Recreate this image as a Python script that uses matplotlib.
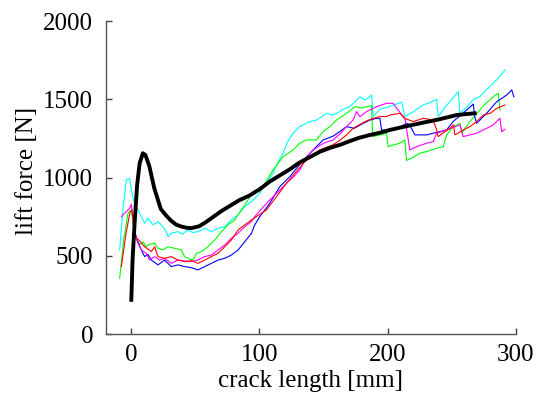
import matplotlib
matplotlib.use("Agg")
import matplotlib.pyplot as plt

# ---- data ----
black_x = [0, 1, 2.5, 4.5, 6.5, 9, 11, 14, 18, 23, 27, 31, 35, 39, 43, 47, 53, 58, 64, 70, 77, 84, 92, 100,
           108, 116, 124, 131, 139, 147, 155, 163, 171, 178, 186, 194, 202, 210, 220, 230, 240, 248, 254, 260, 268]
black_y = [220, 480, 700, 950, 1092, 1156, 1145, 1075, 930, 800, 760, 725, 700, 688, 680, 678, 690, 715, 750, 785,
           820, 855, 885, 925, 975, 1015, 1055, 1095, 1130, 1165, 1190, 1210, 1235, 1255, 1272, 1287, 1305, 1320,
           1338, 1355, 1372, 1388, 1400, 1405, 1411]

cyan_x = [-9.1, -6.5, -3.9, -1.3, 0.5, 2.6, 5, 7.8, 10.4, 13, 16.9, 20.8, 24.7, 27.3, 28.6, 31.2, 36.4, 40, 44.2,
          48, 52, 57.3, 62.5, 67.7, 72.9, 78.1, 83.3, 88.5, 93.8, 100.2, 105, 110.6, 114, 118.4, 122, 126.3, 131.5,
          135, 139.3, 144.5, 148, 152.3, 157.5, 162.7, 166, 170.5, 174, 178.4, 182.3, 185, 187.5, 188.8, 194, 200,
          205, 211, 213.5, 220, 227.8, 233, 238.3, 239.5, 245, 250, 255.2, 256.5, 262, 267, 272, 277, 282.5, 287,
          291.6]
cyan_y = [538, 800, 985, 996, 900, 836, 800, 751, 709, 742, 698, 719, 687, 655, 623, 645, 655, 640, 666, 650, 655,
          677, 655, 677, 687, 730, 762, 815, 847, 900, 960, 1028, 1090, 1156, 1230, 1284, 1326, 1340, 1358, 1368,
          1385, 1411, 1400, 1422, 1440, 1453, 1480, 1517, 1496, 1510, 1528, 1390, 1437, 1450, 1465, 1481, 1390,
          1420, 1464, 1480, 1500, 1390, 1450, 1500, 1549, 1411, 1450, 1500, 1517, 1560, 1603, 1640, 1688]

green_x = [-9.1, -6, -2.6, 0, 1.5, 3.9, 6.5, 9, 11.7, 14, 18.2, 20.8, 24.7, 28.6, 33.8, 39, 41.6, 44.2, 48.1, 50.8,
           54.7, 59.8, 65.1, 70.3, 75.5, 80.7, 85.9, 91.1, 95, 102.8, 110.6, 118.4, 126.3, 131.5, 136.7, 144.5,
           149.7, 154.9, 160.2, 168, 174.5, 179, 183.6, 187.5, 188.3, 194, 199.2, 200.5, 205, 209.6, 213.5, 214.8,
           220, 225.2, 232, 238.3, 243.4, 246.1, 251.3, 256.5, 258, 264.3, 272, 276, 280, 283, 286.4, 287.7]
green_y = [358, 600, 773, 794, 700, 602, 570, 591, 559, 575, 581, 549, 538, 559, 549, 538, 496, 485, 474, 517, 528,
           559, 602, 655, 698, 730, 794, 858, 910, 943, 1049, 1134, 1177, 1220, 1241, 1241, 1294, 1326, 1368, 1411,
           1453, 1445, 1453, 1460, 1262, 1273, 1284, 1198, 1210, 1220, 1241, 1110, 1130, 1156, 1170, 1188, 1198,
           1273, 1326, 1347, 1285, 1358, 1432, 1470, 1496, 1520, 1539, 1432]

red_x = [-7.8, -4, -1, 0.5, 2.6, 6, 10.4, 15.6, 18.2, 20.8, 26, 31.2, 36.4, 41.6, 47, 52, 57.3, 62.5, 67.7, 72.9,
         78.1, 83.3, 88.5, 93.8, 97.6, 105.5, 113.3, 121.1, 128.9, 136.7, 147.1, 157.5, 163, 168, 173.1, 178.4,
         183, 188.8, 194, 199.2, 201.8, 209.6, 213, 220, 227.8, 235.6, 238.3, 239.5, 244, 248.7, 251.3, 252.6, 258,
         264.3, 269.5, 274.7, 280, 285.2, 291.6]
red_y = [432, 650, 780, 794, 623, 600, 559, 528, 559, 496, 485, 496, 474, 464, 470, 453, 474, 496, 517, 559, 602,
         666, 698, 730, 751, 794, 879, 964, 1040, 1113, 1177, 1210, 1240, 1273, 1315, 1340, 1360, 1379, 1390, 1390,
         1400, 1411, 1380, 1358, 1379, 1368, 1305, 1262, 1290, 1315, 1337, 1273, 1300, 1326, 1358, 1400, 1410,
         1443, 1464]

blue_x = [2.6, 5.2, 7.8, 10.4, 13, 15.6, 20.8, 26, 31.2, 36.4, 41.6, 47, 52, 57.3, 62.5, 67.7, 72.9, 78.1, 83.3,
          88.5, 93.8, 96.3, 100.2, 108, 115.9, 123.7, 131.5, 141.9, 149.7, 157.5, 162.7, 168, 174, 181, 186.2,
          191.4, 194, 195.3, 200, 207, 214.8, 217, 221.3, 225.2, 230.5, 235.6, 240.9, 246.1, 251.3, 259, 266.9,
          268, 269.5, 277.3, 285.2, 293, 296.9, 298.5]
blue_y = [650, 591, 538, 496, 510, 474, 443, 474, 432, 443, 432, 425, 411, 432, 453, 474, 485, 506, 538, 591, 645,
          698, 751, 836, 943, 1006, 1085, 1177, 1241, 1265, 1294, 1326, 1315, 1347, 1368, 1379, 1379, 1305, 1300,
          1310, 1347, 1340, 1273, 1273, 1273, 1284, 1294, 1305, 1360, 1411, 1470, 1390, 1347, 1411, 1485, 1528,
          1560, 1517]

magenta_x = [-7.8, -3.9, -1.3, 0, 2.6, 5.2, 7.8, 11.7, 14.3, 18.2, 22.1, 26, 31.2, 36.4, 41.6, 46.9, 52, 57.3,
             62.5, 67.7, 72.9, 78.1, 83.3, 88.5, 93.8, 96.3, 105.5, 113.3, 121.1, 126, 131.5, 136.7, 141.9, 150,
             157.5, 163, 168, 173.1, 175.8, 178.4, 183.6, 191.4, 199.2, 204.4, 207, 213.5, 217.4, 222.7, 230.5,
             235.6, 238.3, 246.1, 256.5, 259, 269.5, 277.3, 282.5, 287.7, 289, 291.6]
magenta_y = [751, 783, 804, 830, 666, 581, 538, 517, 474, 496, 474, 485, 453, 474, 468, 464, 474, 496, 506, 538,
             570, 613, 645, 687, 719, 751, 836, 900, 964, 1000, 1049, 1134, 1177, 1220, 1241, 1280, 1326, 1368,
             1422, 1390, 1422, 1453, 1475, 1475, 1443, 1379, 1177, 1198, 1220, 1230, 1284, 1305, 1337, 1262, 1284,
             1315, 1337, 1379, 1294, 1309]

x_ticks = [0, 100, 200, 300]
y_ticks = [0, 500, 1000, 1500, 2000]
x_label = "crack length [mm]"
y_label = "lift force [N]"

# ---- plot ----
plt.rcParams['font.family'] = ['Liberation Serif', 'DejaVu Serif']
fig = plt.figure(figsize=(5.42, 3.97), dpi=100)
ax = fig.add_axes([0.195, 0.158, 0.7565, 0.789])

thin = 0.8
ax.plot(cyan_x, cyan_y, color=(0, 1, 1), lw=thin)
ax.plot(green_x, green_y, color=(0, 1, 0), lw=thin)
ax.plot(blue_x, blue_y, color=(0, 0, 1), lw=thin)
ax.plot(magenta_x, magenta_y, color=(1, 0, 1), lw=thin)
ax.plot(red_x, red_y, color=(1, 0, 0), lw=thin)
ax.plot(black_x, black_y, color='black', lw=2.8)

ax.set_xlim(-20, 300)
ax.set_ylim(0, 2000)
ax.set_xticks(x_ticks)
ax.set_yticks(y_ticks)
ax.tick_params(direction='in', length=4, width=1, color='#444444', labelsize=18,
               labelcolor='black', pad=7)
ax.tick_params(axis='y', pad=9)
for s in ['top', 'right']:
    ax.spines[s].set_visible(False)
for s in ['left', 'bottom']:
    ax.spines[s].set_color('#555555')
    ax.spines[s].set_linewidth(1.0)

ax.set_xlabel(x_label, fontsize=18)
ax.set_ylabel(y_label, fontsize=18)
ax.xaxis.set_label_coords(0.5, -0.115)
ax.yaxis.set_label_coords(-0.165, 0.52)

fig.savefig("out.png", dpi=100)
